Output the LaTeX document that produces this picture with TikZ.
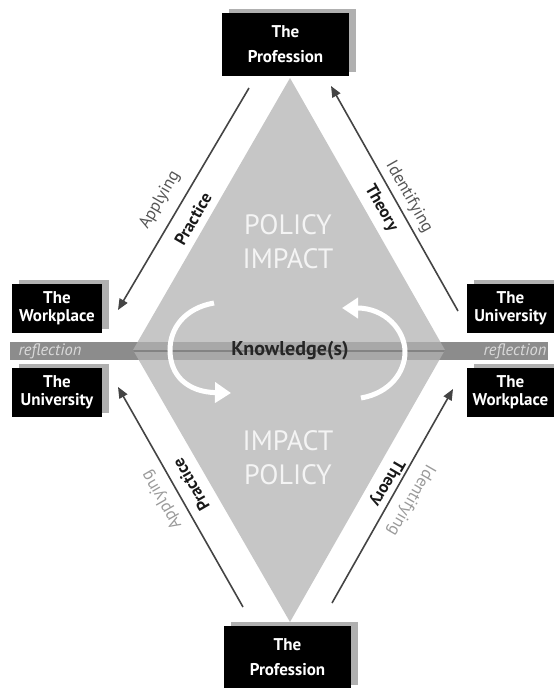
\documentclass[tikz,border=0pt]{standalone}
\usepackage{fontspec}
\setmainfont{PT Sans}
\usetikzlibrary{arrows.meta,shadows}
\definecolor{diamondgray}{HTML}{C6C6C6}
\definecolor{bandgray}{HTML}{8C8C8C}
\definecolor{bandin}{HTML}{A8A8A8}
\definecolor{bandline}{HTML}{838383}
\definecolor{shadowgray}{HTML}{B0B0B0}
\definecolor{arrowgray}{HTML}{444444}
\definecolor{darklabel}{HTML}{555555}
\definecolor{lightlabel}{HTML}{9A9A9A}
\definecolor{bigtext}{HTML}{F4F4F4}
\definecolor{refltext}{HTML}{DADADA}
\begin{document}
\begin{tikzpicture}[x=1pt,y=-1pt,
  box/.style={fill=black, text=white, align=center, inner sep=0pt,
    general shadow={fill=shadowgray, shadow xshift=7pt, shadow yshift=4pt}},
  bigbox/.style={box, minimum width=127pt, minimum height=63pt,
    font=\bfseries\fontsize{17}{25}\selectfont},
  sidebox/.style={box, minimum width=90pt, minimum height=49pt,
    font=\bfseries\fontsize{17}{18}\selectfont},
  link/.style={draw=arrowgray, line width=1.6pt, -{Triangle[length=11pt,width=9pt]}},
  verb/.style={font=\fontsize{17}{18}\selectfont, inner sep=0pt},
  noun/.style={font=\bfseries\fontsize{17}{18}\selectfont, text=black!90, inner sep=0pt},
  big/.style={font=\fontsize{28}{34}\selectfont, text=bigtext, align=center},
  refl/.style={font=\itshape\fontsize{16.5}{18}\selectfont, text=refltext, inner sep=0pt},
  cyc/.style={draw=white, line width=5pt, -{Triangle[length=16pt,width=20pt]}}
]
\useasboundingbox (0,0) rectangle (554,688);
% diamond
\fill[diamondgray] (290,78) -- (445,350) -- (290,622) -- (133,350) -- cycle;
% band
\fill[bandgray] (10,342) rectangle (548,360);
\begin{scope}
  \clip (290,78) -- (445,350) -- (290,622) -- (133,350) -- cycle;
  \fill[bandin] (10,342) rectangle (548,360);
  \draw[bandline, line width=1.5pt] (10,351) -- (548,351);
\end{scope}
\node[refl] (rl) at (50,351) {reflection};
\node[refl] (rr) at (515,351) {reflection};
\node[font=\bfseries\fontsize{20}{22}\selectfont, text=black!85] (know) at (290,351) {Knowledge(s)};
% big texts
\node[big] (pi) at (288,242) {POLICY\\IMPACT};
\node[big] (ip) at (288,458) {IMPACT\\POLICY};
% boxes
\node[bigbox] (proftop) at (285.5,44.5) {The\\Profession};
\node[bigbox] (profbot) at (287.5,657.5) {The\\Profession};
\node[sidebox] (wpl) at (57,308.5) {The\\Workplace};
\node[sidebox] (unl) at (57,392.5) {The\\University};
\node[sidebox, minimum width=87pt] (unr) at (510.5,308.5) {The\\University};
\node[sidebox, minimum width=87pt] (wpr) at (510.5,392.5) {The\\Workplace};
% connector ends
\coordinate (a1s) at (249,88);
\coordinate (a1e) at (118,310);
\coordinate (a2s) at (458,311);
\coordinate (a2e) at (331,86);
\coordinate (a3s) at (243,607);
\coordinate (a3e) at (118,387);
\coordinate (a4s) at (332,603);
\coordinate (a4e) at (453,389);
\draw[link] (a1s) -- (a1e);
\draw[link] (a2s) -- (a2e);
\draw[link] (a3s) -- (a3e);
\draw[link] (a4s) -- (a4e);
% labels
\node[verb, text=darklabel, rotate=60] (l1) at (160,200) {Applying};
\node[noun, rotate=60] (l2) at (193,219) {Practice};
\node[verb, text=darklabel, rotate=-60.5] (l3) at (409,197) {Identifying};
\node[noun, rotate=-60.5] (l4) at (381,208) {Theory};
\node[verb, text=lightlabel, rotate=120] (l5) at (162,500) {Applying};
\node[noun, rotate=120] (l6) at (191,485) {Practice};
\node[noun, rotate=-120] (l7) at (387,483) {Theory};
\node[verb, text=lightlabel, rotate=-120] (l8) at (411,500) {Identifying};
% cycle arrows
\coordinate (c1s) at (214,303);
\coordinate (c1e) at (231,393);
\coordinate (c2s) at (361,398);
\coordinate (c2e) at (342,308);
\draw[cyc] (c1s) .. controls (185,308) and (170,328) .. (170,350)
  .. controls (170,376) and (188,392) .. (c1e);
\draw[cyc] (c2s) .. controls (390,393) and (405,372) .. (405,352)
  .. controls (405,330) and (385,308) .. (c2e);
\end{tikzpicture}
\end{document}
